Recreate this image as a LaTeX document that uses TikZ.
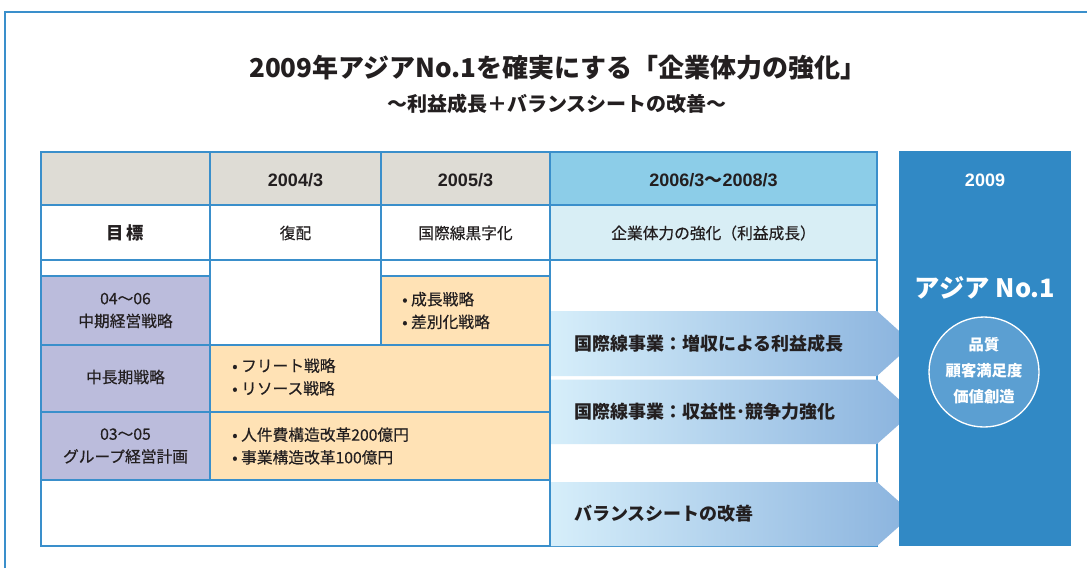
\documentclass[tikz,border=0pt]{standalone}
\usepackage{fontspec}
\setmainfont{Noto Sans CJK JP}
\newfontfamily\medfont{Noto Sans CJK JP}[FakeBold=0.4]
\newfontfamily\latfont{Liberation Sans}
\usetikzlibrary{calc}
\definecolor{bdr}{HTML}{3A8FCB}
\definecolor{hgray}{HTML}{DEDCD5}
\definecolor{purp}{HTML}{BBBCDC}
\definecolor{orng}{HTML}{FFE2B5}
\definecolor{hblue}{HTML}{8CCDE8}
\definecolor{lcyan}{HTML}{D8EEF5}
\definecolor{bbox}{HTML}{3189C5}
\definecolor{circ}{HTML}{5B9FD2}
\definecolor{arL}{HTML}{D6EEFA}
\definecolor{arR}{HTML}{8AB3DE}
\definecolor{txt}{HTML}{231F20}
\tikzset{
  cellbox/.style={draw=bdr, line width=1pt},
  ctext/.style={font=\fontsize{11.8}{17}\medfont, text=txt, align=center, inner sep=0},
  htext/.style={font=\fontsize{13.5}{15}\latfont\bfseries, text=txt, inner sep=0},
  btext/.style={font=\fontsize{11.8}{17}\medfont, text=txt, align=left, anchor=west, inner sep=0},
  atext/.style={font=\fontsize{13.5}{16}\bfseries, text=txt, anchor=west, inner sep=0},
  wtext/.style={text=white, inner sep=0, align=center},
  arrowshape/.style={left color=arL, right color=arR, draw=none},
}
\begin{document}
\begin{tikzpicture}[x=0.75pt, y=-0.75pt]
\useasboundingbox (0,0) rectangle (1087,568);
\fill[white] (0,0) rectangle (1087,568);
% outer frame
\draw[bdr, line width=1.8pt] (5,568) -- (5,12) -- (1087,12);
% title
\node[font=\fontsize{19.5}{22}\bfseries, text=txt, inner sep=0] (title) at (558,68) {2009年アジアNo.1を確実にする「企業体力の強化」};
\node[font=\fontsize{15}{18}\bfseries, text=txt, inner sep=0] (subtitle) at (557,104) {～利益成長＋バランスシートの改善～};
% header row
\path[cellbox, fill=hgray] (41,152) rectangle (210,205);
\path[cellbox, fill=hgray] (210,152) rectangle (381,205);
\path[cellbox, fill=hgray] (381,152) rectangle (550,205);
\path[cellbox, fill=hblue] (550,152) rectangle (877,205);
\node[htext] (h1) at (295.5,180) {2004/3};
\node[htext] (h2) at (465.5,180) {2005/3};
\node[htext] (h3) at (713.5,180) {2006/3{\fontsize{13.5}{15}\rmfamily\bfseries ～}2008/3};
% goal row
\path[cellbox, fill=white] (41,205) rectangle (210,260);
\path[cellbox, fill=white] (210,205) rectangle (381,260);
\path[cellbox, fill=white] (381,205) rectangle (550,260);
\path[cellbox, fill=lcyan] (550,205) rectangle (877,260);
\node[font=\fontsize{13}{15}\bfseries, text=txt, inner sep=0] (goal) at (125.5,233) {目\hspace{2pt}標};
\node[ctext] (g1) at (295.5,233) {復配};
\node[ctext] (g2) at (465.5,233) {国際線黒字化};
\node[ctext] (g3) at (713.5,233) {企業体力の強化（利益成長）};
% spacer and mid-term row
\path[cellbox, fill=white] (41,260) rectangle (210,276);
\path[cellbox, fill=white] (210,260) rectangle (381,345);
\path[cellbox, fill=white] (381,260) rectangle (550,276);
\path[cellbox, fill=white] (550,260) rectangle (877,546);
\path[cellbox, fill=purp] (41,276) rectangle (210,345);
\path[cellbox, fill=orng] (381,276) rectangle (550,345);
\node[ctext] (m1) at (125.5,310.5) {04～06\\中期経営戦略};
\node[btext] (m2) at (402,310.5) {• 成長戦略\\• 差別化戦略};
% long-term row
\path[cellbox, fill=purp] (41,345) rectangle (210,412);
\path[cellbox, fill=orng] (210,345) rectangle (550,412);
\node[ctext] (l1) at (125.5,377) {中長期戦略};
\node[btext] (l2) at (232,377) {• フリート戦略\\• リソース戦略};
% group plan row
\path[cellbox, fill=purp] (41,412) rectangle (210,480);
\path[cellbox, fill=orng] (210,412) rectangle (550,480);
\node[ctext] (p1) at (125.5,446) {03～05\\グループ経営計画};
\node[btext] (p2) at (232,446) {• 人件費構造改革200億円\\• 事業構造改革100億円};
% empty bottom row
\path[cellbox, fill=white] (41,480) rectangle (550,546);
% arrows
\shade[arrowshape] (551,311) -- (877,311) -- (913,343.5) -- (877,376) -- (551,376) -- cycle;
\shade[arrowshape] (551,379.5) -- (877,379.5) -- (913,412) -- (877,444) -- (551,444) -- cycle;
\shade[arrowshape] (551,482) -- (877,482) -- (913,514) -- (877,546) -- (551,546) -- cycle;
\node[atext] (a1) at (574,344) {国際線事業：増収による利益成長};
\node[atext] (a2) at (574,412) {国際線事業：収益性･競争力強化};
\node[atext] (a3) at (574,514) {バランスシートの改善};
% 2009 box
\fill[bbox] (899,151) rectangle (1071,546);
\node[wtext, font=\fontsize{13.5}{15}\latfont\bfseries] (y2009) at (985,180) {2009};
\node[wtext, font=\fontsize{19}{22}\bfseries] (asia) at (985,288) {アジア No.1};
\node[circle, fill=circ, draw=white, line width=1pt, minimum size=82.5pt, inner sep=0] (c) at (984,372) {};
\node[wtext, font=\fontsize{11.5}{19.5}\bfseries] (ctext) at ($(c)+(0,-1)$) {品質\\顧客満足度\\価値創造};
\end{tikzpicture}
\end{document}
